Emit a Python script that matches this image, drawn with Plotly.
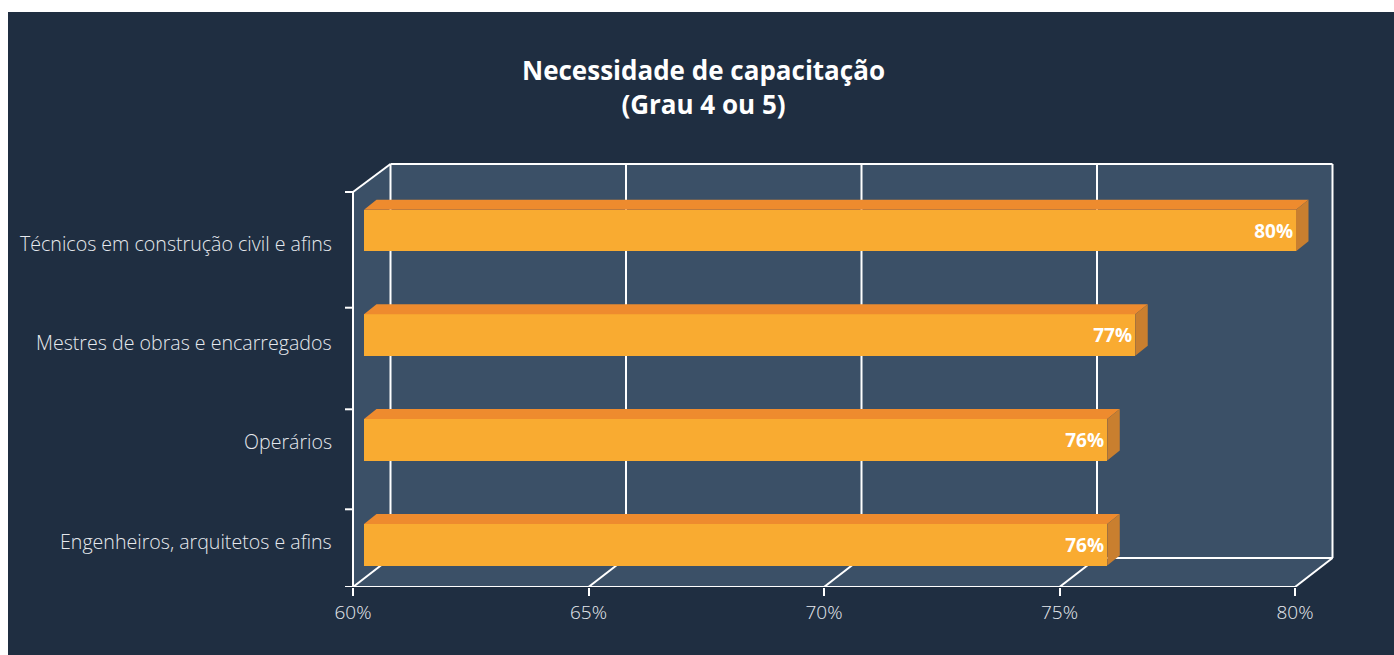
import plotly.graph_objects as go

# ---------------- data ----------------
categories = [
    "Técnicos em construção civil e afins",
    "Mestres de obras e encarregados",
    "Operários",
    "Engenheiros, arquitetos e afins",
]
values = [80.0, 76.55, 75.95, 75.95]
tick_vals = [60, 65, 70, 75, 80]
tick_labels = ["60%", "65%", "70%", "75%", "80%"]
title_text = "Necessidade de capacitação<br>(Grau 4 ou 5)"

# ---------------- layout geometry (pixels) ----------------
W, H = 1394, 655
BASE = 60
BAR_PX0, BAR_PPU = 364.0, 46.6      # bar front plane: px of 60, px per unit
FR_PX0, FR_PPU = 353.0, 47.1        # frame front plane
DEPTH_DX = 37.5                      # 3D depth offset of the frame (px)
Y_FRONT_TOP, Y_FRONT_BOT = 192, 587
Y_BACK_TOP, Y_BACK_BOT = 164, 558
bar_centers = [230.6, 335.0, 439.8, 544.8]
bar_h = 41.5
bar_dx, bar_dy = 12.5, 10            # bar depth offset (px)
label_y = [243, 342, 441, 541]
left_ticks_y = [192, 307.7, 409.3, 509.3, 587]

BG = "#1f2e41"
WALL = "#3b5067"
FRONT = "#f9ab31"
TOP = "#ee8b2e"
SIDE = "#c97f2f"
LINE = "#ffffff"
TXT = "#e6e9ee"
FONT = "Open Sans"

x_range = [BASE - BAR_PX0 / BAR_PPU, BASE + (W - BAR_PX0) / BAR_PPU]
x2_range = [BASE - FR_PX0 / FR_PPU, BASE + (W - FR_PX0) / FR_PPU]
y_dom0 = (H - Y_FRONT_BOT) / H

fig = go.Figure()

# front faces of the bars
fig.add_trace(go.Bar(
    orientation="h",
    x=[v - BASE for v in values],
    base=BASE,
    y=bar_centers,
    width=bar_h,
    marker=dict(color=FRONT, line=dict(width=0)),
    text=[f"{round(v)}%" for v in values],
    textposition="inside",
    insidetextanchor="end",
    textangle=0,
    constraintext="none",
    textfont=dict(family=FONT, size=19, color="#ffffff", weight="bold"),
    hoverinfo="skip",
    xaxis="x", yaxis="y",
))

# top and side faces of the bars
ddx = bar_dx / BAR_PPU
for v, yc in zip(values, bar_centers):
    yt, yb = yc - bar_h / 2, yc + bar_h / 2
    fig.add_trace(go.Scatter(
        x=[BASE, BASE + ddx, v + ddx, v, BASE],
        y=[yt, yt - bar_dy, yt - bar_dy, yt, yt],
        mode="lines", line=dict(width=0), fill="toself", fillcolor=TOP,
        hoverinfo="skip", showlegend=False, xaxis="x", yaxis="y"))
    fig.add_trace(go.Scatter(
        x=[v, v + ddx, v + ddx, v, v],
        y=[yt, yt - bar_dy, yb - bar_dy, yb, yt],
        mode="lines", line=dict(width=0), fill="toself", fillcolor=SIDE,
        hoverinfo="skip", showlegend=False, xaxis="x", yaxis="y"))

# invisible trace to carry axis x2
fig.add_trace(go.Scatter(x=[tick_vals[0]], y=[Y_FRONT_BOT], mode="markers",
                         marker=dict(opacity=0), hoverinfo="skip",
                         showlegend=False, xaxis="x2", yaxis="y"))

# ---------------- frame (walls, grid) ----------------
d = DEPTH_DX / FR_PPU
lo, hi = tick_vals[0], tick_vals[-1]
shapes = []
shapes.append(dict(type="rect", xref="paper", yref="paper", x0=8 / W, x1=1,
                   y0=0, y1=1 - 12 / H, fillcolor=BG, line=dict(width=0),
                   layer="below"))
path = (f"M {lo},{Y_FRONT_TOP} L {lo + d},{Y_BACK_TOP} L {hi + d},{Y_BACK_TOP} "
        f"L {hi + d},{Y_BACK_BOT} L {hi},{Y_FRONT_BOT} L {lo},{Y_FRONT_BOT} Z")
shapes.append(dict(type="path", xref="x2", yref="y", path=path,
                   fillcolor=WALL, line=dict(width=0), layer="below"))

def seg(x0, y0, x1, y1):
    shapes.append(dict(type="line", xref="x2", yref="y", x0=x0, y0=y0,
                       x1=x1, y1=y1, line=dict(color=LINE, width=2),
                       layer="below"))

for t in tick_vals:
    seg(t + d, Y_BACK_TOP, t + d, Y_BACK_BOT)      # back wall grid
    seg(t, Y_FRONT_BOT, t + d, Y_BACK_BOT)         # floor grid
seg(lo + d, Y_BACK_TOP, hi + d, Y_BACK_TOP)         # back top edge
seg(lo + d, Y_BACK_BOT, hi + d, Y_BACK_BOT)         # back bottom edge
seg(lo, Y_FRONT_BOT, hi, Y_FRONT_BOT)               # front floor edge
seg(lo, Y_FRONT_TOP, lo, Y_FRONT_BOT)               # front left edge
seg(lo, Y_FRONT_TOP, lo + d, Y_BACK_TOP)            # left top diagonal
tick_len = 8 / FR_PPU
for ty in left_ticks_y:
    seg(lo - tick_len, ty, lo, ty)

# ---------------- text ----------------
annotations = []
for cat, ly in zip(categories, label_y):
    annotations.append(dict(text=cat, xref="paper", yref="y", x=334 / W, y=ly,
                            xanchor="right", yanchor="middle", showarrow=False,
                            font=dict(family=FONT, size=19.6, color=TXT,
                                      weight=300)))
annotations.append(dict(text=title_text, xref="paper", yref="y",
                        x=703.5 / W, y=87, xanchor="center",
                        yanchor="middle", showarrow=False,
                        font=dict(family=FONT, size=26, color="#ffffff",
                                  weight="bold")))

fig.update_layout(
    width=W, height=H,
    margin=dict(l=0, r=0, t=0, b=0),
    paper_bgcolor="#ffffff",
    plot_bgcolor="rgba(0,0,0,0)",
    showlegend=False,
    shapes=shapes,
    annotations=annotations,
    bargap=0,
    xaxis=dict(range=x_range, domain=[0, 1], visible=False, fixedrange=True),
    xaxis2=dict(range=x2_range, domain=[0, 1], overlaying="x", anchor="y",
                side="bottom", tickvals=tick_vals, ticktext=tick_labels,
                ticks="outside", ticklen=8, tickwidth=2, tickcolor=LINE,
                showgrid=False, zeroline=False, showline=False,
                tickfont=dict(family=FONT, size=19, color=TXT, weight=300),
                fixedrange=True),
    yaxis=dict(range=[Y_FRONT_BOT, 0], domain=[y_dom0, 1], visible=False,
               fixedrange=True),
)

fig.write_html("out.html")
